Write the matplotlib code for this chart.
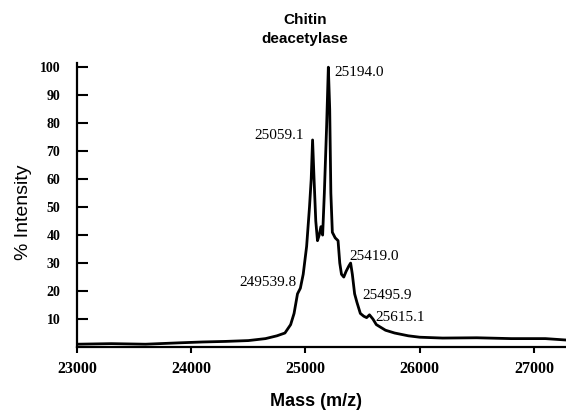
import numpy as np
import matplotlib
matplotlib.use('Agg')
import matplotlib.pyplot as plt

# spectrum (mass, % intensity)
mass = [23000, 23300, 23600, 23900, 24100, 24300, 24500, 24650, 24750, 24820,
        24870, 24900, 24930, 24955, 24980, 25010, 25035, 25050, 25062, 25075,
        25090, 25105, 25120, 25135, 25150, 25165, 25185, 25200, 25212, 25222,
        25235, 25260, 25285, 25300, 25315, 25335, 25355, 25380, 25395, 25410,
        25430, 25450, 25480, 25510, 25535, 25560, 25590, 25620, 25660, 25700,
        25780, 25900, 26000, 26200, 26500, 26800, 27100, 27280]
intensity = [1.0, 1.2, 1.0, 1.5, 1.8, 2.0, 2.3, 3.0, 4.0, 5.0,
             8, 12, 19, 21, 26, 36, 50, 60, 74, 60,
             45, 38, 40, 43, 40, 55, 79, 100, 85, 55,
             41, 39, 38, 30, 26, 25, 27, 29, 30, 26,
             19, 16, 12, 11, 10.5, 11.5, 10, 8, 7, 6,
             5, 4, 3.5, 3.2, 3.3, 3.0, 3.0, 2.5]

peak_labels = ['249539.8', '25059.1', '25194.0', '25419.0', '25495.9', '25615.1']
peak_x = [24955, 25062, 25200, 25395, 25450, 25560]
peak_y = [21, 74, 100, 30, 16, 11.5]

xticks = [23000, 24000, 25000, 26000, 27000]
yticks = [10, 20, 30, 40, 50, 60, 70, 80, 90, 100]

fig = plt.figure(figsize=(5.66, 4.11), dpi=100)
ax = fig.add_axes([0.136, 0.1557, 0.864, 0.691])

ax.plot(mass, intensity, color='black', lw=2.0)

ax.set_xlim(23000, 27280)
ax.set_ylim(0, 101.5)
ax.spines['top'].set_visible(False)
ax.spines['right'].set_visible(False)
ax.spines['left'].set_linewidth(1.6)
ax.spines['bottom'].set_linewidth(1.6)

ax.set_xticks(xticks)
ax.set_yticks(yticks)
ax.tick_params(axis='y', direction='in', length=8, width=1.5, pad=12)
ax.tick_params(axis='x', direction='out', length=4, width=1.5, pad=6)
for lab in ax.get_xticklabels():
    lab.set_fontfamily('Liberation Serif')
    lab.set_fontweight('bold')
    lab.set_fontsize(11.5)
for lab in ax.get_yticklabels():
    lab.set_fontfamily('Liberation Serif')
    lab.set_fontweight('bold')
    lab.set_fontsize(10)

# peak annotations (offsets in points from the peak)
offsets = [(-3, 4, 'right'), (-6, 3, 'right'), (4, -4, 'left'),
           (-1, 5, 'left'), (4, 5, 'left'), (4, -2, 'left')]
for lab, px, py, (dx, dy, ha) in zip(peak_labels, peak_x, peak_y, offsets):
    ax.annotate(lab, (px, py), xytext=(dx, dy), textcoords='offset points',
                ha=ha, va='center', fontsize=11, family='Liberation Serif')

fig.text(0.539, 0.951, 'Chitin', ha='center', va='center', fontsize=11,
         fontweight='bold', family='Liberation Sans')
fig.text(0.539, 0.905, 'deacetylase', ha='center', va='center', fontsize=11,
         fontweight='bold', family='Liberation Sans')
fig.text(0.558, 0.022, 'Mass (m/z)', ha='center', va='center', fontsize=13,
         fontweight='bold', family='Liberation Sans')
fig.text(0.041, 0.484, '% Intensity', ha='center', va='center', rotation=90,
         fontsize=14, family='Liberation Sans')

fig.savefig('out.png', dpi=100)
